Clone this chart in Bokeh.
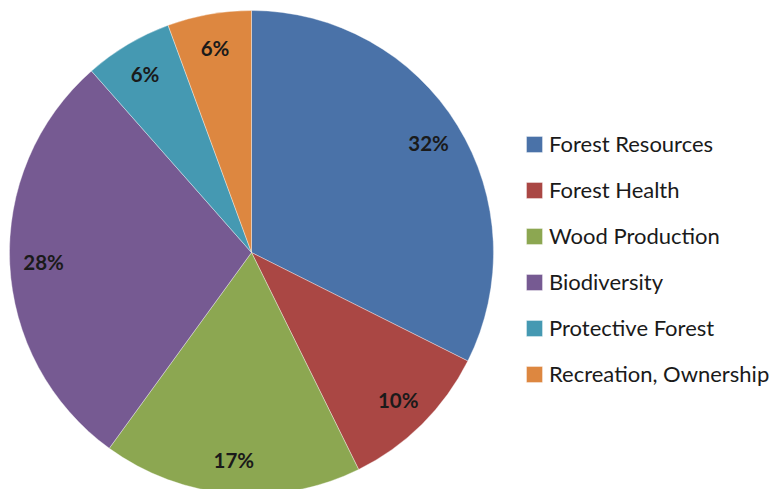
import math
from bokeh.plotting import figure
from bokeh.models import ColumnDataSource, Range1d, Legend, LegendItem
from bokeh.core.properties import value
from bokeh.embed import file_html
from bokeh.resources import INLINE

categories = ["Forest Resources", "Forest Health", "Wood Production",
              "Biodiversity", "Protective Forest", "Recreation, Ownership"]
shares = [32.4, 10.3, 17.3, 28.5, 5.9, 5.6]
colors = ["#4A72A8", "#AA4744", "#8CA751", "#765A92", "#4599B2", "#DD8740"]

W, H = 772, 489
CX, CY = 251, 252          # pie centre in pixels from top-left of figure
R = 242

total = sum(shares)
starts, ends, lx, ly, labels = [], [], [], [], []
cum = 0.0
for s in shares:
    a0 = cum / total * 2 * math.pi
    cum += s
    a1 = cum / total * 2 * math.pi
    starts.append(math.pi / 2 - a1)
    ends.append(math.pi / 2 - a0)
    mid = (a0 + a1) / 2
    frac = 0.86
    lx.append(R * frac * math.sin(mid))
    ly.append(R * frac * math.cos(mid))
    labels.append(f"{round(s / total * 100)}%")

src = ColumnDataSource(dict(cat=categories, start=starts, end=ends,
                            color=colors, lx=lx, ly=ly, label=labels))

p = figure(width=W, height=H, output_backend="svg", toolbar_location=None,
           x_range=Range1d(-CX, W - CX), y_range=Range1d(-(H - CY), CY),
           min_border=0, outline_line_color=None)
p.axis.visible = False
p.grid.visible = False

r = p.wedge(x=0, y=0, radius=R, start_angle="start", end_angle="end",
            fill_color="color", line_color="white", line_width=0.6,
            line_alpha=0.6, source=src)

p.text(x="lx", y="ly", text="label", source=src, text_align="center",
       text_baseline="middle", text_font=value("Lato"),
       text_font_style="bold", text_font_size="20.5px", text_color="#1a1a1a")

items = [LegendItem(label=c, renderers=[r], index=i) for i, c in enumerate(categories)]
legend = Legend(items=items, location=(524, 102), glyph_width=20, glyph_height=20,
                label_height=15, spacing=19, padding=0, margin=0,
                label_standoff=5, label_text_font="Lato",
                label_text_font_size="22px", label_text_color="#1a1a1a",
                border_line_color=None, background_fill_alpha=0)
p.add_layout(legend)

open("out.html", "w").write(file_html(p, INLINE))
